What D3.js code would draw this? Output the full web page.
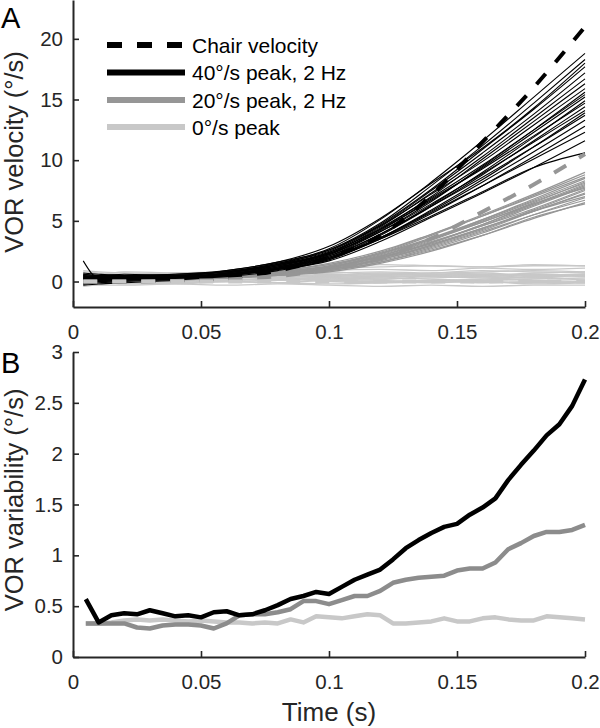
<!DOCTYPE html>
<html>
<head>
<meta charset="utf-8">
<script src="https://cdn.jsdelivr.net/npm/d3@7"></script>
<style>
  html, body { margin: 0; padding: 0; background: #fff; }
  svg { display: block; font-family: Arial, "Liberation Sans", sans-serif; }
</style>
</head>
<body>
<svg id="chart" width="600" height="728"></svg>
<script>
// ---------- Panel A data ----------
const tA = [0.004, 0.01, 0.02, 0.04, 0.06, 0.08, 0.10, 0.12, 0.14, 0.16, 0.18, 0.20];
const chair40 = [0, 0, 0, 0.1, 0.3, 0.9, 2.0, 3.8, 7.1, 11.5, 16.0, 21.0];
const chair20 = [0, 0, 0, 0.05, 0.15, 0.45, 1.0, 1.9, 3.55, 5.75, 8.0, 10.5];
const chair0  = [0, 0, 0, 0, 0, 0, 0, 0, 0, 0, 0, 0];

const traces40 = [
  [0.3,0.4,0.5,0.5,0.8,1.5,2.7,5.1,8.2,11.6,15.2,18.8],
  [0.5,0.4,0.3,0.4,0.7,1.4,2.6,4.8,7.9,11.2,14.7,18.3],
  [0.1,0.2,0.3,0.4,0.9,1.6,2.9,5.2,8.1,11.0,14.3,18.0],
  [0.6,0.5,0.6,0.5,0.8,1.5,2.5,4.7,7.6,10.9,14.2,17.7],
  [0.0,0.1,0.2,0.3,0.6,1.3,2.4,4.6,7.5,10.6,13.8,17.2],
  [1.7,0.3,0.4,0.3,0.7,1.4,2.3,4.5,7.3,10.3,13.5,16.7],
  [-0.2,-0.1,0.0,0.2,0.6,1.2,2.2,4.3,7.0,10.1,13.2,16.3],
  [0.4,0.5,0.5,0.6,0.9,1.6,2.6,4.6,7.2,9.9,12.9,15.9],
  [0.2,0.3,0.2,0.3,0.5,1.1,2.1,4.1,6.6,9.5,12.5,15.6],
  [0.7,0.6,0.5,0.6,0.8,1.4,2.4,4.3,6.7,9.4,12.3,15.2],
  [-0.3,-0.2,-0.1,0.1,0.5,1.1,2.0,3.9,6.3,9.0,11.9,14.9],
  [0.3,0.2,0.3,0.4,0.7,1.3,2.2,4.2,6.8,9.3,12.0,14.7],
  [0.1,0.0,0.1,0.2,0.5,1.0,1.9,3.8,6.2,8.8,11.6,14.4],
  [0.5,0.4,0.4,0.5,0.8,1.4,2.3,4.1,6.4,8.9,11.5,14.1],
  [-0.1,0.0,0.1,0.2,0.4,0.9,1.8,3.6,5.9,8.4,11.1,13.9],
  [0.2,0.3,0.3,0.4,0.6,1.2,2.1,3.9,6.2,8.6,11.1,13.7],
  [0.4,0.3,0.2,0.3,0.6,1.1,1.9,3.6,5.8,8.2,10.7,13.3],
  [0.0,0.1,0.2,0.3,0.5,1.0,1.8,3.5,5.6,7.9,10.3,12.8],
  [0.3,0.2,0.3,0.4,0.6,1.2,2.0,3.6,5.7,7.9,10.1,12.3],
  [0.6,0.5,0.4,0.4,0.6,1.0,1.7,3.3,5.3,7.3,9.4,11.6],
  [0.2,0.1,0.2,0.3,0.5,1.1,1.9,3.5,5.4,7.4,9.4,10.6],
  [0.0,0.1,0.2,0.3,0.7,1.3,2.3,4.4,6.9,9.6,12.5,15.4]
];
const traces20 = [
  [0.3,0.3,0.2,0.3,0.5,0.9,1.4,2.4,3.9,5.5,7.2,9.0],
  [0.1,0.2,0.3,0.3,0.4,0.8,1.3,2.3,3.8,5.4,7.1,8.8],
  [0.5,0.4,0.4,0.4,0.6,0.9,1.5,2.5,3.9,5.4,7.0,8.6],
  [-0.1,0.0,0.1,0.2,0.3,0.6,1.1,2.1,3.5,5.1,6.8,8.5],
  [0.2,0.2,0.3,0.2,0.4,0.8,1.3,2.3,3.6,5.1,6.7,8.3],
  [0.4,0.3,0.2,0.3,0.5,0.8,1.2,2.1,3.4,4.9,6.5,8.2],
  [0.0,0.1,0.2,0.3,0.4,0.7,1.2,2.2,3.5,5.0,6.6,8.1],
  [0.3,0.2,0.3,0.3,0.5,0.9,1.4,2.3,3.5,4.9,6.4,8.0],
  [0.6,0.5,0.4,0.4,0.5,0.8,1.2,2.0,3.2,4.7,6.3,7.9],
  [0.1,0.0,0.1,0.2,0.3,0.6,1.0,1.9,3.2,4.6,6.2,7.8],
  [0.2,0.3,0.3,0.3,0.4,0.7,1.1,2.0,3.2,4.7,6.4,7.7],
  [0.4,0.4,0.3,0.2,0.4,0.7,1.2,2.1,3.3,4.6,6.0,7.6],
  [-0.2,-0.1,0.0,0.1,0.3,0.6,1.0,1.8,3.0,4.4,5.9,7.5],
  [0.3,0.3,0.2,0.3,0.4,0.8,1.2,2.0,3.1,4.4,5.8,7.3],
  [0.1,0.2,0.2,0.2,0.3,0.6,1.0,1.8,2.9,4.2,5.8,7.2],
  [0.5,0.4,0.3,0.3,0.4,0.7,1.1,1.9,3.0,4.3,5.8,7.0],
  [0.0,0.1,0.1,0.2,0.3,0.5,0.9,1.6,2.7,4.0,5.5,6.9],
  [0.2,0.2,0.3,0.3,0.4,0.7,1.0,1.7,2.8,4.1,5.5,6.7],
  [0.3,0.2,0.2,0.3,0.3,0.6,0.9,1.6,2.6,3.8,5.2,6.5],
  [0.1,0.1,0.2,0.2,0.3,0.5,0.8,1.5,2.5,3.8,5.3,6.4]
];
const traces0 = [
  [0.3,0.2,0.4,0.3,0.5,0.4,0.6,0.5,0.4,0.5,0.6,0.5],
  [-0.3,-0.2,-0.1,-0.2,0.0,-0.1,0.1,0.0,-0.1,0.0,-0.2,-0.1],
  [0.8,0.7,0.6,0.7,0.8,0.9,1.1,1.2,1.3,1.2,1.3,1.3],
  [0.1,0.0,0.1,0.2,0.1,0.3,0.2,0.3,0.2,0.1,0.2,0.3],
  [0.5,0.6,0.4,0.5,0.6,0.7,0.8,0.6,0.7,0.9,0.8,0.7],
  [-0.1,0.0,-0.2,-0.1,0.1,0.2,0.0,-0.1,0.0,0.2,0.1,0.0],
  [0.4,0.3,0.5,0.4,0.3,0.5,0.4,0.6,0.5,0.4,0.6,0.5],
  [0.0,0.1,0.0,-0.1,0.0,0.1,0.3,0.2,0.4,0.3,0.5,0.4],
  [0.6,0.5,0.6,0.5,0.7,0.6,0.9,1.0,0.9,1.1,1.0,1.1],
  [-0.4,-0.3,-0.3,-0.2,-0.3,-0.2,-0.3,-0.4,-0.3,-0.4,-0.3,-0.3],
  [0.2,0.3,0.2,0.1,0.2,0.4,0.3,0.2,0.3,0.4,0.3,0.2],
  [0.7,0.6,0.8,0.7,0.5,0.4,0.5,0.7,0.6,0.5,0.7,0.8],
  [0.1,0.2,0.3,0.2,0.4,0.3,0.1,0.0,0.1,-0.1,0.0,-0.1],
  [0.3,0.4,0.3,0.5,0.4,0.6,0.7,0.8,0.7,0.8,0.9,0.8],
  [-0.2,-0.1,0.0,0.1,0.0,-0.1,-0.2,-0.1,0.1,0.0,-0.1,0.0],
  [0.5,0.4,0.3,0.4,0.5,0.3,0.5,0.4,0.5,0.6,0.4,0.5],
  [0.2,0.1,0.2,0.3,0.2,0.1,0.2,0.1,0.0,0.2,0.3,0.1],
  [0.9,0.8,0.7,0.6,0.7,0.8,1.0,1.4,1.3,1.2,1.4,1.3],
  [0.0,-0.1,0.1,0.0,0.2,0.1,0.4,0.3,0.5,0.4,0.3,0.6],
  [0.4,0.5,0.4,0.3,0.4,0.2,0.3,0.5,0.6,0.7,0.5,0.6]
];

const legendLabels = ["Chair velocity", "40°/s peak, 2 Hz", "20°/s peak, 2 Hz", "0°/s peak"];

// ---------- Panel B data ----------
const tB = [0.005,0.010,0.015,0.020,0.025,0.030,0.035,0.040,0.045,0.050,
            0.055,0.060,0.065,0.070,0.075,0.080,0.085,0.090,0.095,0.100,
            0.105,0.110,0.115,0.120,0.125,0.130,0.135,0.140,0.145,0.150,
            0.155,0.160,0.165,0.170,0.175,0.180,0.185,0.190,0.195,0.200];
const var40 = [0.57,0.34,0.41,0.43,0.42,0.46,0.43,0.40,0.41,0.39,
               0.44,0.45,0.41,0.42,0.46,0.51,0.57,0.60,0.64,0.62,
               0.69,0.76,0.81,0.86,0.96,1.07,1.15,1.22,1.28,1.31,
               1.40,1.47,1.56,1.74,1.89,2.03,2.18,2.29,2.47,2.73];
const var20 = [0.33,0.33,0.33,0.33,0.29,0.28,0.31,0.32,0.32,0.31,
               0.28,0.33,0.41,0.42,0.42,0.44,0.47,0.55,0.55,0.52,
               0.56,0.60,0.60,0.65,0.73,0.76,0.78,0.79,0.80,0.85,
               0.87,0.87,0.93,1.06,1.12,1.19,1.23,1.23,1.25,1.30];
const var0  = [0.33,0.33,0.34,0.36,0.37,0.36,0.37,0.36,0.35,0.36,
               0.35,0.34,0.34,0.33,0.34,0.33,0.37,0.34,0.40,0.39,
               0.38,0.40,0.42,0.41,0.33,0.33,0.34,0.35,0.38,0.35,
               0.35,0.38,0.39,0.37,0.36,0.36,0.40,0.39,0.38,0.37];

const xTicks = [0, 0.05, 0.1, 0.15, 0.2];
const yTicksA = [0, 5, 10, 15, 20];
const yTicksB = [0, 0.5, 1, 1.5, 2, 2.5, 3];

// ---------- colours ----------
const C_BLACK = "#000000", C_GREY = "#969696", C_LIGHT = "#c8c8c8";
const C_AXIS = "#262626";

const svg = d3.select("#chart");

const x = d3.scaleLinear().domain([0, 0.2]).range([73, 585]);
const yA = d3.scaleLinear().domain([-2.1, 23.2]).range([307, 0]);
const yB = d3.scaleLinear().domain([0, 3]).range([657, 352]);

const fmt = d => (d === 0 ? "0" : String(d));

function styleAxis(g) {
  g.select(".domain").attr("stroke", C_AXIS).attr("stroke-width", 2);
  g.selectAll(".tick line").attr("stroke", C_AXIS).attr("stroke-width", 1.6);
  g.selectAll(".tick text").attr("fill", C_AXIS).style("font-size", "20.5px")
    .style("font-family", "Arial, 'Liberation Sans', sans-serif");
}

// ---------- Panel A ----------
const gA = svg.append("g");
const lineA = d3.line().x((d, i) => x(tA[i])).y(d => yA(d)).curve(d3.curveMonotoneX);

gA.append("g").selectAll("path").data(traces0).join("path")
  .attr("d", lineA).attr("fill", "none").attr("stroke", C_LIGHT).attr("stroke-width", 1.3);
gA.append("g").selectAll("path").data(traces20).join("path")
  .attr("d", lineA).attr("fill", "none").attr("stroke", C_GREY).attr("stroke-width", 1.2);
gA.append("g").selectAll("path").data(traces40).join("path")
  .attr("d", lineA).attr("fill", "none").attr("stroke", C_BLACK).attr("stroke-width", 1.1);

const chairs = [
  { v: chair40, c: C_BLACK },
  { v: chair20, c: C_GREY },
  { v: chair0, c: C_LIGHT }
];
gA.append("g").selectAll("path").data(chairs).join("path")
  .attr("d", d => lineA(d.v)).attr("fill", "none").attr("stroke", d => d.c)
  .attr("stroke-width", 4).attr("stroke-dasharray", "14,15");

const axAx = gA.append("g").attr("transform", `translate(0,${307})`)
  .call(d3.axisBottom(x).tickValues(xTicks).tickFormat(fmt).tickSizeInner(-6).tickSizeOuter(0).tickPadding(17));
styleAxis(axAx);
const axAy = gA.append("g").attr("transform", `translate(${73},0)`)
  .call(d3.axisLeft(yA).tickValues(yTicksA).tickFormat(fmt).tickSizeInner(-6).tickSizeOuter(0).tickPadding(10));
styleAxis(axAy);

gA.append("text").attr("transform", "translate(23,152) rotate(-90)")
  .attr("text-anchor", "middle").attr("fill", C_AXIS).style("font-size", "25.5px")
  .text("VOR velocity (°/s)");
gA.append("text").attr("x", 1).attr("y", 28).attr("fill", "#000").style("font-size", "29px").text("A");

// legend
const legendItems = [
  { label: legendLabels[0], c: C_BLACK, dash: "15,15", y: 45 },
  { label: legendLabels[1], c: C_BLACK, dash: null, y: 72.5 },
  { label: legendLabels[2], c: C_GREY, dash: null, y: 100 },
  { label: legendLabels[3], c: C_LIGHT, dash: null, y: 127 }
];
const lg = gA.append("g");
legendItems.forEach(it => {
  lg.append("line").attr("x1", 107).attr("x2", 185).attr("y1", it.y).attr("y2", it.y)
    .attr("stroke", it.c).attr("stroke-width", 6).attr("stroke-dasharray", it.dash);
  lg.append("text").attr("x", 192).attr("y", it.y + 7.5).attr("fill", "#000")
    .style("font-size", "21px").text(it.label);
});

// ---------- Panel B ----------
const gB = svg.append("g");
const lineB = d3.line().x((d, i) => x(tB[i])).y(d => yB(d));
const varSeries = [
  { v: var0, c: C_LIGHT },
  { v: var20, c: "#8c8c8c" },
  { v: var40, c: C_BLACK }
];
gB.append("g").selectAll("path").data(varSeries).join("path")
  .attr("d", d => lineB(d.v)).attr("fill", "none").attr("stroke", d => d.c)
  .attr("stroke-width", 4.5).attr("stroke-linejoin", "round");

const axBx = gB.append("g").attr("transform", `translate(0,${657})`)
  .call(d3.axisBottom(x).tickValues(xTicks).tickFormat(fmt).tickSizeInner(-6).tickSizeOuter(0).tickPadding(17));
styleAxis(axBx);
const axBy = gB.append("g").attr("transform", `translate(${73},0)`)
  .call(d3.axisLeft(yB).tickValues(yTicksB).tickFormat(fmt).tickSizeInner(-6).tickSizeOuter(0).tickPadding(10));
styleAxis(axBy);

gB.append("text").attr("transform", "translate(23,500) rotate(-90)")
  .attr("text-anchor", "middle").attr("fill", C_AXIS).style("font-size", "25.5px")
  .text("VOR variability (°/s)");
gB.append("text").attr("x", 329).attr("y", 721).attr("text-anchor", "middle")
  .attr("fill", C_AXIS).style("font-size", "26px").text("Time (s)");
gB.append("text").attr("x", 1).attr("y", 373).attr("fill", "#000").style("font-size", "29px").text("B");
</script>
</body>
</html>
